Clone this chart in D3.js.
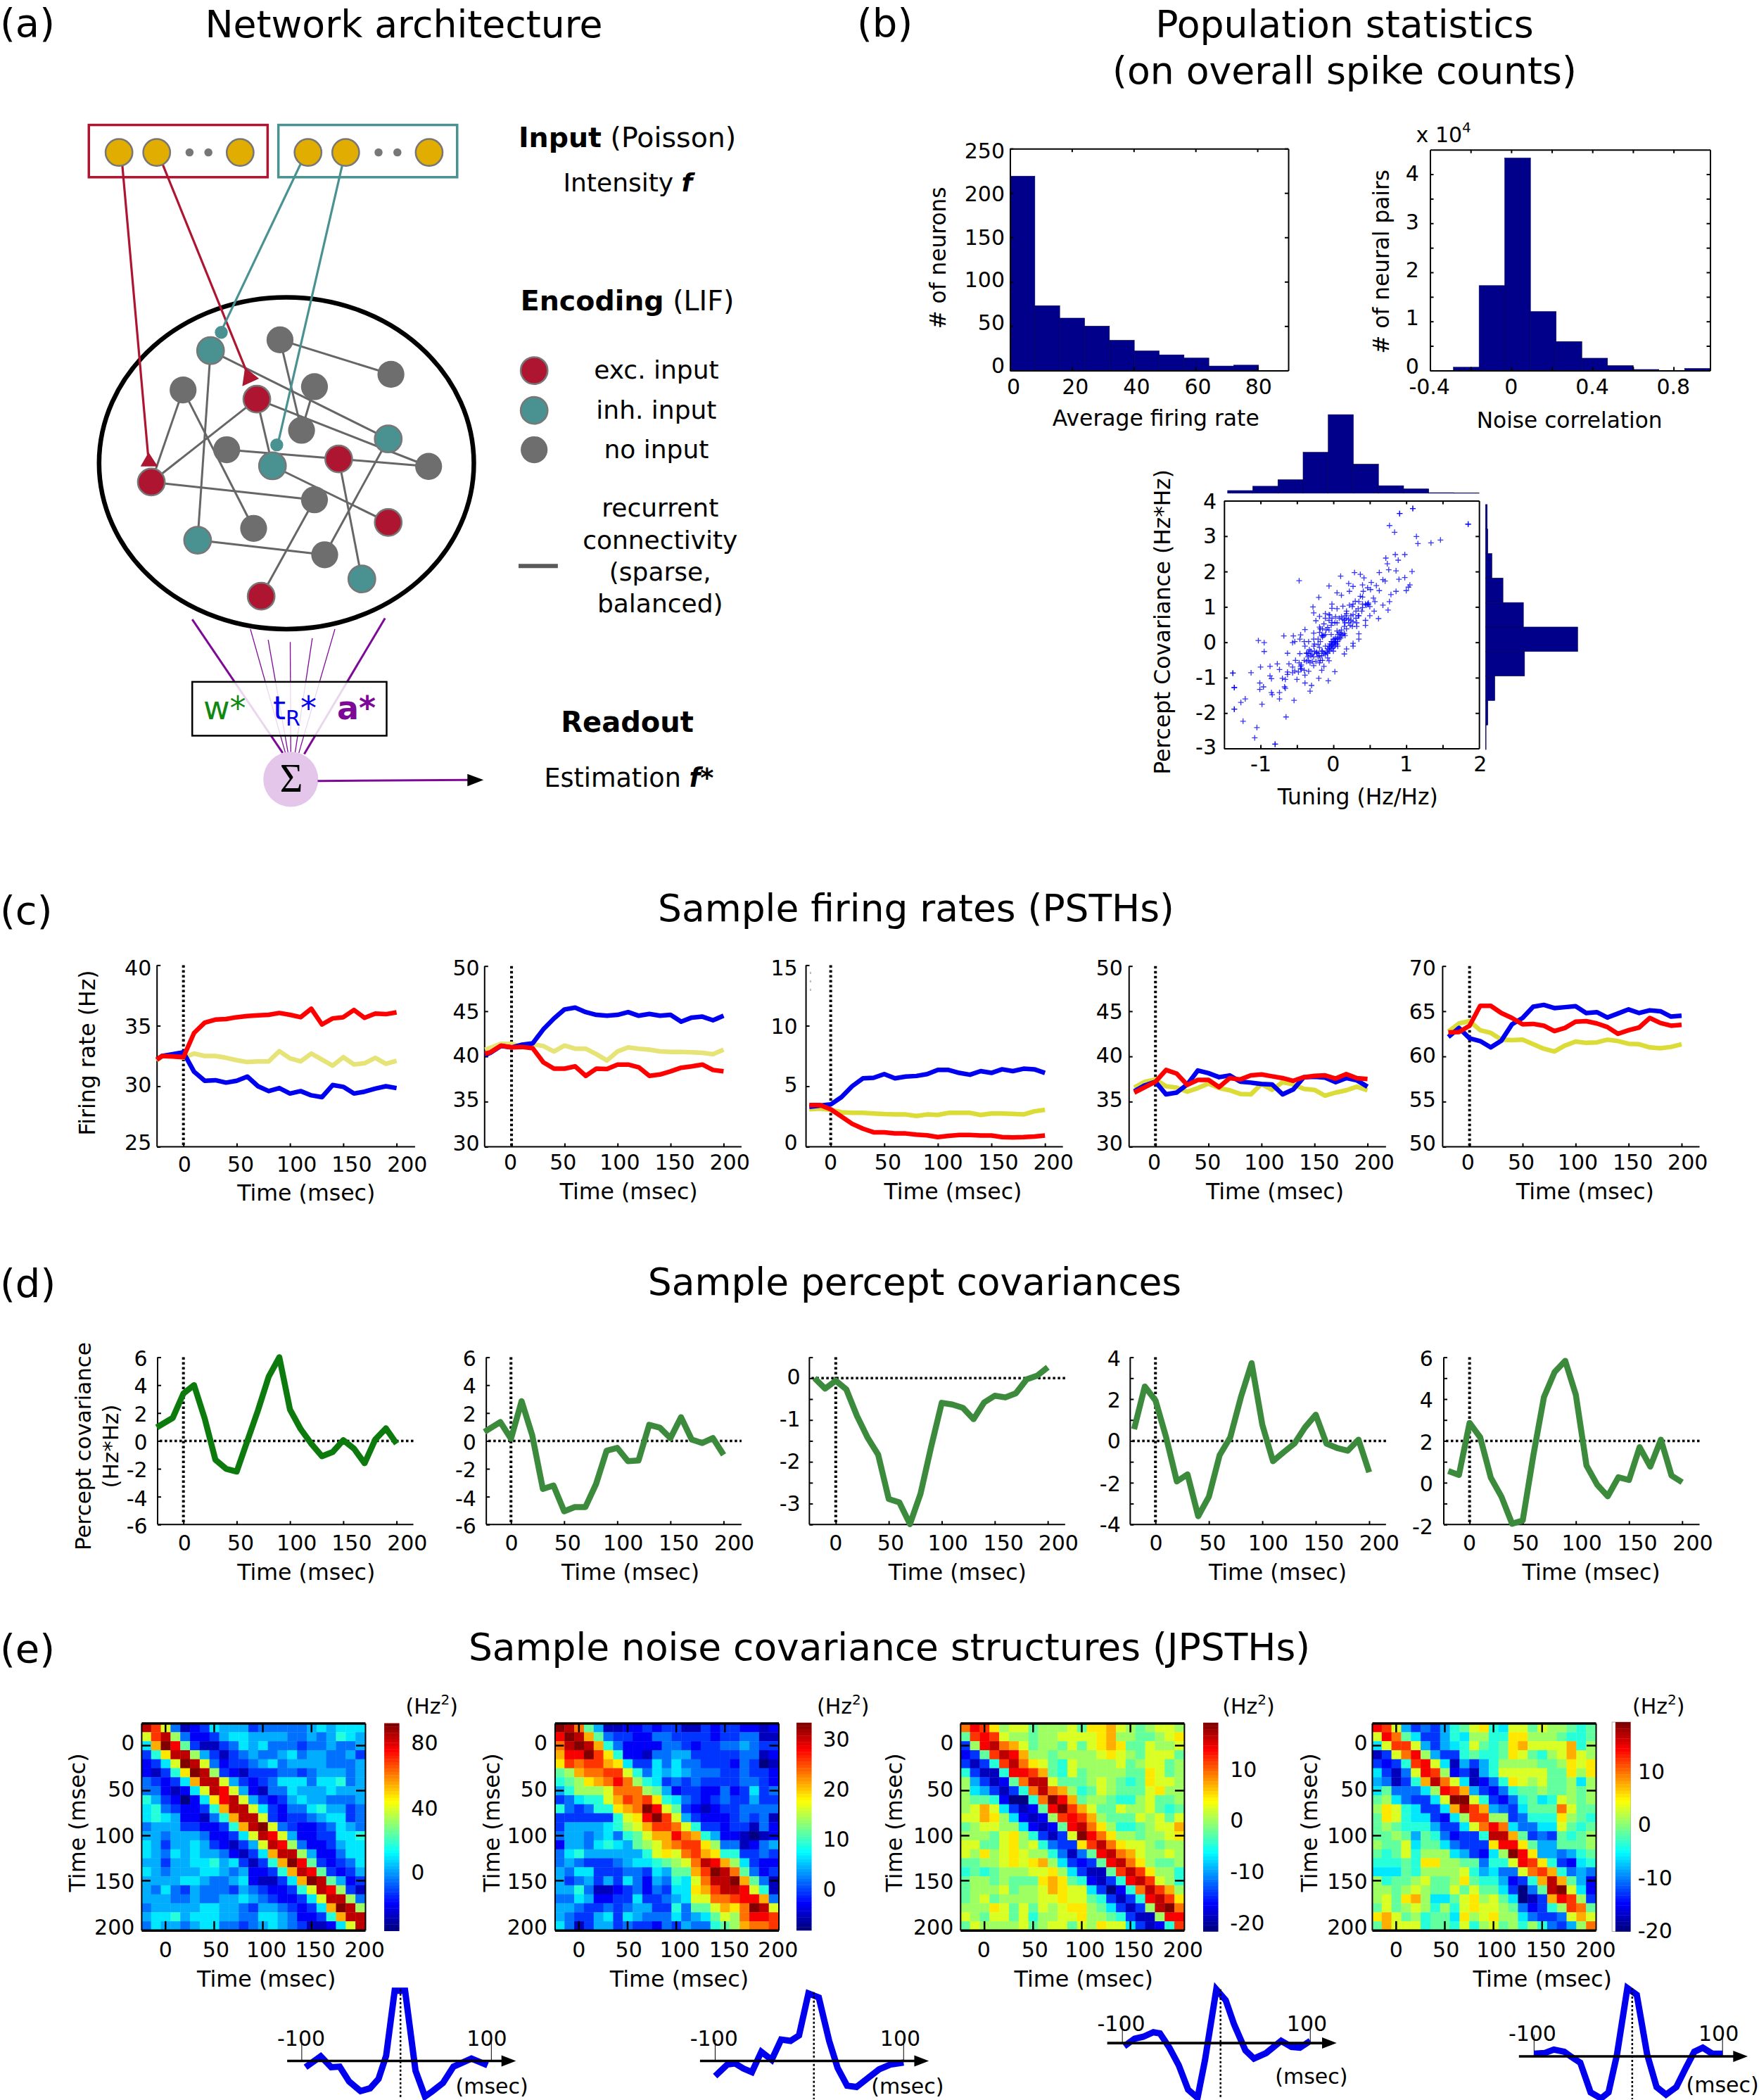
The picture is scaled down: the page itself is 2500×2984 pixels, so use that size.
<!DOCTYPE html>
<html><head><meta charset="utf-8">
<style>html,body{margin:0;padding:0;background:#fff}svg{display:block}text{font-family:"DejaVu Sans",sans-serif;fill:#000}</style>
<script src="https://cdn.jsdelivr.net/npm/d3@7/dist/d3.min.js"></script>
</head><body><svg id="c" width="2500" height="2984"></svg>
<script>
// ---------- data: PSTH panels (c) ----------
const timesC = [-20,-10,0,10,20,30,40,50,60,70,80,90,100,110,120,130,140,150,160,170,180,190,200];
const timesLong = [-25,-20,-10,0,10,20,30,40,50,60,70,80,90,100,110,120,130,140,150,160,170,180,190,200];
const timesD = [-25,-10,0,10,20,30,40,50,60,70,80,90,100,110,120,130,140,150,160,170,180,190,200];
const c1Red=[32.2,32.5,32.46,32.4,34.4,35.25,35.5,35.55,35.7,35.8,35.85,35.9,36.05,35.9,35.7,36.4,35.1,35.6,35.7,36.3,35.65,36,35.95,36.1];
const c1Blue=[32.2,32.5,32.65,32.8,31.2,30.45,30.5,30.3,30.45,30.8,30,29.6,29.85,29.4,29.6,29.25,29.1,30.1,29.95,29.4,29.55,29.8,30,29.85];
const c1Yellow=[32.1,32.5,32.5,32.35,32.7,32.5,32.5,32.35,32.15,32,32.05,32.05,32.9,32.3,32.05,32.7,32.2,31.7,32.4,31.8,31.9,32.35,31.85,32.1];
const c2Red=[40.3,40.45,41.2,41,41.05,40.9,39.35,38.65,38.65,38.9,37.85,38.65,38.6,39.1,39.1,38.8,37.85,38,38.35,38.75,38.9,39.1,38.5,38.35];
const c2Blue=[40.15,40.4,41.15,41,41.3,41.45,43,44.2,45.2,45.4,44.9,44.6,44.5,44.6,44.9,44.5,44.7,44.5,44.6,43.85,44.3,44.4,44,44.5];
const c2Yellow=[40.75,40.95,41.4,41.4,41.05,41.35,41.15,40.55,41.2,40.85,40.85,40.25,39.55,40.55,41,40.85,40.75,40.55,40.5,40.5,40.45,40.4,40.25,40.75];
const c3Red=[3.45,3.45,3.1,2.5,1.9,1.5,1.2,1.2,1.1,1.1,1,0.95,0.8,0.9,0.97,0.97,0.93,0.93,0.8,0.78,0.8,0.85,0.93];
const c3Blue=[3.3,3.4,3.5,4.1,5,5.65,5.7,6,5.65,5.8,5.85,6,6.35,6.35,6.1,5.95,6.25,6.1,6.4,6.25,6.45,6.4,6.1];
const c3Yellow=[3.1,3.15,3.05,2.85,2.8,2.8,2.75,2.7,2.67,2.67,2.55,2.67,2.63,2.8,2.8,2.8,2.63,2.75,2.75,2.72,2.67,2.93,3.05];
const c4Red=[36,36.6,37.2,38.5,38.1,36.85,37.4,37.4,36.6,37.6,37.45,37.9,38,37.8,37.6,37.3,37.7,37.85,37.9,37.55,38.05,37.6,37.5];
const c4Blue=[36.15,36.8,37.2,35.8,36,36.9,38.45,38.15,37.7,37.9,37.2,37.1,36.95,36.9,35.8,36.35,37.7,37.75,37.65,37.15,37.6,37.35,36.65];
const c4Yellow=[36.55,37.2,37.45,36.7,36.55,36.1,36.5,37,36.5,36.25,35.85,35.8,36.95,36.3,37.15,36.9,36.4,36.3,35.65,36,36.25,36.65,36.25];
const c5Red=[62.65,62.7,63.4,65.6,65.6,64.8,64.25,63.55,63.6,63.4,62.8,63.15,63.85,63.9,63.65,63.25,62.5,62.9,63.2,64.25,63.7,63.4,63.5];
const c5Blue=[62.15,63.15,62,61.7,61,61.75,63.55,64.25,65.5,65.7,65.35,65.45,65.55,64.8,64.9,64.3,64.75,65.2,64.8,65.1,65,64.4,64.5];
const c5Yellow=[62.75,63.65,63.9,62.9,62.6,61.85,61.8,61.85,61.35,60.85,60.55,61.2,61.65,61.5,61.55,61.85,61.7,61.4,61.35,61,60.9,61.05,61.35];
// ---------- data: percept covariances (d) ----------
const d1Cov=[0.97,1.65,3.4,4,1.6,-1.35,-2,-2.2,0,2.2,4.6,6,2.25,0.85,-0.2,-1.1,-0.8,0.05,-0.55,-1.6,0.1,0.9,-0.2];
const d2Cov=[0.65,1.35,0.15,2.85,0.4,-3.45,-3.2,-5.05,-4.75,-4.75,-3.1,-0.7,-0.5,-1.45,-1.4,1.15,0.95,0.2,1.7,0.1,-0.15,0.2,-1];
const d3Cov=[0,-0.25,-0.06,-0.27,-0.9,-1.42,-1.83,-2.89,-2.97,-3.49,-2.76,-1.64,-0.59,-0.63,-0.71,-0.98,-0.58,-0.42,-0.46,-0.36,-0.03,0.06,0.26];
const d4Cov=[0.56,2.6,1.94,0.17,-1.94,-1.6,-3.6,-2.67,-0.69,0.17,2.1,3.72,0.77,-0.97,-0.54,-0.13,0.65,1.25,-0.13,-0.34,-0.47,0.06,-1.5];
const d5Cov=[0.56,0.37,2.86,2.17,0.24,-0.67,-1.96,-1.81,1.31,4.1,5.29,5.83,4.2,0.82,-0.09,-0.65,0.26,0.13,1.7,0.77,2.06,0.34,0.02];
// ---------- data: histograms (b) ----------
const rateCounts=[219,73,59,50,34,22,17.6,14,5,6];
const noiseCounts=[0.066,1.73,4.33,1.2,0.59,0.25,0.1,0.02,0,0.04];
const tuningCounts=[5,13,25,76,146,54,14,8,1,0.5];
const covCounts=[3,4,11,30,65,158,67,16,4,1];
// ---------- data: scatter (b) ----------
const tuningVals=[1.85,1.09,0.91,0.77,0.84,1.14,1.16,1.34,1.47,0.85,0.98,0.72,0.89,0.74,0.76,0.86,1.08,0.63,0.29,0.37,0.10,0.42,0.98,0.90,0.68,-0.47,0.71,0.21,0.52,1.05,0.40,-0.06,0.27,0.59,0.47,1.03,0.51,0.63,0.22,0.41,1.0,0.86,0.05,0.11,0.79,-0.2,0.37,0.55,0.57,0.77,0.30,-0.02,0.48,0.68,0.22,0.13,-0.28,0.05,-0.02,0.18,0.75,0.56,-0.27,-0.11,-0.05,-0.19,0.11,0.03,0.27,0.50,0.62,-0.24,0.24,-0.02,-0.13,0.16,0.44,0.32,-0.19,-0.39,0.18,-0.10,0.32,-0.27,0.08,0.35,-0.68,-0.55,-0.45,-0.15,0.16,0.35,-1.03,-0.95,-0.56,-0.46,-0.40,-0.34,0.27,-0.21,0.27,-0.95,-0.63,0.18,0.15,-0.46,-0.36,-0.29,-0.21,0,0.02,-0.02,0.05,0.03,-0.03,0.08,-0.05,0,0.06,-0.06,0.1,0.02,-0.02,-0.08,-0.13,-0.1,-0.15,-0.16,-0.19,-0.23,-0.26,-0.33,-0.35,-0.27,-0.18,-0.08,-0.37,-0.32,-0.24,-0.06,-0.13,-0.52,-0.61,-0.77,-0.87,-1,-0.56,-0.45,-0.27,-0.74,-0.63,-0.56,-0.48,-0.4,-0.34,-0.16,0.02,-1.38,-1.13,-0.87,-0.39,-0.7,-0.85,-0.66,-0.5,-0.2,-0.07,-1.01,-0.39,-0.3,-1.36,-0.96,-0.67,-1.01,-0.66,-0.32,-0.85,-0.74,-0.84,-0.74,-0.54,-1.21,-1.27,-0.98,-1.36,-0.65,-1.24,-1.05,-1.08,-0.8,0.24,0.16,0.31,0.4,0.45,0.35,0.26,0.40,0.47,0.34,0.21,0.26,0.15,-0.06,-0.18,-0.13,-0.08,-0.03,0.02,0.13,0.44,0.05,0.11,-0.26,-0.31,-0.18,-0.11,-0.21,-0.34,0,0.06,-0.53,-0.45,-0.44,
 -0.23,-0.19,-0.16,-0.11,-0.08,-0.05,-0.02,0.02,0.03,0.05,0.08,0.10,0.11,0.13,0.15,-0.03,0,-0.02,0.02,-0.05,-0.06,0.03,0.06,-0.15,-0.11,-0.21,-0.27,-0.31,-0.37,-0.40,-0.34,-0.29,-0.19,-0.15,0.18,0.21,0.23,0.27,0.31,0.35,0.39,0.44,0.48,0.50,0.40,0.34,0.27,0.18,0.15,0.08,0.05,-0.02,-0.06,-0.11,-0.15,-0.06,-0.03,-0.19,-0.16,-0.27,-0.39,-0.47,-0.44,-0.53,-0.63,
 1.85,1.09,0.91,-1.38,-1.36,-1.36,-0.8];
const covVals=[3.34,3.78,3.64,3.30,3.11,2.99,2.79,2.81,2.89,2.48,2.48,2.38,2.32,2.22,2.05,2.02,2.0,1.97,1.97,1.92,1.87,1.82,1.83,1.78,1.77,1.74,1.73,1.66,1.69,1.62,1.62,1.59,1.58,1.60,1.54,1.56,1.49,1.46,1.44,1.44,1.46,1.44,1.40,1.33,1.35,1.27,1.30,1.25,1.15,1.15,1.16,1.08,1.07,1.05,1.05,1.02,1.0,0.95,0.96,0.88,0.91,0.88,0.83,0.81,0.77,0.73,0.72,0.72,0.78,0.75,0.67,0.61,0.62,0.56,0.52,0.55,0.62,0.55,0.43,0.36,0.38,0.35,0.45,0.26,0.28,0.24,0.18,0.18,0.21,0.19,0.19,0.09,0.05,-0.01,-0.01,0.09,0.02,0.02,-0.03,-0.06,-0.11,-0.26,-0.31,-0.19,-0.33,-0.32,-0.31,-0.34,-0.31,-0.01,0.02,-0.08,0.09,-0.05,-0.11,0.15,-0.15,-0.15,0.02,-0.21,0.25,0.09,0.02,-0.18,-0.31,-0.28,-0.25,-0.38,-0.15,-0.31,-0.25,-0.21,-0.41,-0.41,-0.51,-0.44,-0.54,-0.58,-0.54,-0.52,-0.68,-0.51,-0.61,-0.61,-0.68,-0.7,-0.7,-0.74,-0.66,-0.77,-0.84,-0.86,-0.84,-0.79,-0.82,-0.79,-0.83,-0.87,-0.86,-0.95,-0.93,-1.02,-1.03,-1.05,-1.05,-1.02,-1.09,-1.15,-1.15,-1.22,-1.28,-1.26,-1.26,-1.33,-1.3,-1.38,-1.42,-1.42,-1.48,-1.6,-1.64,-1.6,-1.7,-1.75,-1.89,-2.11,-2.23,-2.41,-2.7,-2.88,0.75,0.75,0.88,0.98,1.05,1.15,1.01,1.28,1.08,0.75,0.55,0.45,0.45,0.78,0.38,0.19,0.42,0.48,0.55,0.65,0.48,0.32,0.35,-0.05,-0.25,0.02,-0.11,-0.41,-0.31,-0.25,-0.11,0.02,-0.68,-0.76,
 -0.28,-0.38,-0.25,-0.34,-0.31,-0.25,-0.18,-0.11,0.02,-0.05,0.09,0.12,0.19,0.22,0.25,0.02,0.09,-0.05,-0.01,-0.05,-0.11,0.12,0.22,0.15,0.22,0.09,-0.11,-0.38,-0.31,-0.51,-0.51,-0.54,-0.58,-0.51,0.68,0.65,0.48,0.58,0.68,0.75,0.88,1.08,1.11,1.01,1.08,0.95,1.08,0.81,0.62,0.68,0.55,0.68,0.62,0.68,0.38,0.35,0.22,0.28,0.19,0.09,-0.11,-0.58,-0.64,-0.81,-0.91,
 3.34,3.78,3.64,-0.87,-1.28,-1.89,-2.88];
// ---------- data: JPSTH cells, one char per cell, colour level 0..h ----------
const jpsth1=["gea41236555344444565666","aeg94223566555544545765","6chf8311346564443445445","37bgg953134544564554453","236ahga4233456455554445","2137bhg9321333443455545","43236cgga53234666466745","442126agfa5214465556555","7532026bfga532356554445","67432237cgga63244675534","676522147cgga3233456634","4555332237cgha432234654","55455542236agfa52233667","653556532135agf94223566","6546565542136cgg9522466","55355667563137chf832346","654555665452237cgf83235","5555665445621136chg8523","54643544435432237agf931","555445445565432236agg94","4555556655435543236chg9","56675666554466542237cgg","465545664434565431126ag"];
const jpsth2=["hgd85112232331132332212","fhgc8433224433332334411","dghgc742222443233445433","cffheb72214455333334412","bedeecb6336464433324301","89cddeea746565444334332","789bcdfd976343433334432","57999addd98523322423634","34677acedeb764323433533","743477bcdhfa83212334444","3333337abfhea5322234341","35555679aceeda733233142","455456478accfdc75221012","2554676589acdeeb9441245","4675555557abadecb773343","4543334566789adgfc96322","54663334436588cehgd8423","53453536425476adgghc841","55741123424366bceggfa71","44652233633456aaddeffc4","5543343455337488acbdhga","54335636544464568a9dffe","6413553433243544789cdde"];
const jpsth3=["dfeb9aa8999a8bbca989aa9","8efea99899aaaabc99889ab","39fgdca8998a8abcb88a99a","238egfc9989999aba98aaa8","3137egdba87a9999a89aa89","73117ffec87a8999988ba89","953128dgga8889a9878baa9","9653137dgdc978a9888ab99","98872007dhfc8998779a889","9aca63128fheca88a99a878","aacb962129efec9888a9a8a","89aa9962128fgdb97789aac","9998ab97313ahfdb99899ab","aa88ab9a7433begdbaa9899","a9b9aba9974148fgdca99a9","8899ababc963238fgdb9889","7878999aab963118egeb997","89989888bcb872137fgea97","8999a899acbaa63027dgec9","89a89999aabaa873137fgeb","999ba8a8a9abb9863139ghd","a98aa8a799aab99873119ff","8a9999a89aa8a9baa63127e"];
const jpsth4=["fea5343578ab76aa8a99878","afd86335769977bb9998778","6aeea53567a878bcaaaac79","13adf953378778ba879aca9","3237efa6153579999889bab","6314afe923157aaaaa88b9b","54137cgda61247ba9a88969","6844469fec5324788988989","8964336ahha73247867a989","9ba76336cgec5436888da88","8ba7663269ee9934777b987","8987775336adfd64466a878","889858742337ggc83438789","988a68864333bffb8558889","878a7999653269hfb554578","77787bb9988477afeb73267","666879999a75644adec7454","97889a889b8775237cgc852","9989a988a8a8863048gha62","9a8bc9668ab9a86013cfe93","8a89a9797abaa9842379ed8","bca897886b9ab9964334aca","8caaa7887a79a897974359d"];
// ---------- data: cross-covariance curves (e) ----------
const lag1=[-96,-80,-69,-60,-50,-38,-28,-19,-11,-2,9,20,30,38,49,60,79,96];
const cc1=[-2.3,1.7,-2.3,-2.1,-7.6,-11.1,-10.1,-6.6,1.9,25.9,25.9,-3.6,-13.1,-11.1,-8.1,-2.1,0.9,-1.6];
const lag2=[-100,-87,-79,-70,-61,-51,-40,-30,-20,-11,-1,10,21,30,40,50,61,74,86,100];
const cc2=[-5.6,-1.3,-0.9,-2.8,-4.1,3.4,0.4,7.9,7.4,9.4,24.9,23.4,7.4,-2.6,-9.1,-9.6,-6.6,-3.1,-1.3,-0.6];
const lag3=[-98,-87,-78,-67,-60,-50,-40,-30,-20,-12,0,10,19,31,40,53,69,80,89,100];
const cc3=[-1.2,1.6,2.3,4,3.6,-1.7,-8.2,-17.2,-20.2,-6.2,19.8,15.8,6.8,-2.7,-5.7,-3.7,0.8,-1.4,-1.7,0.8];
const lag4=[-100,-89,-79,-68,-60,-51,-40,-29,-21,-12,-1,9,20,30,40,51,61,70,79,89,100];
const cc4=[1,1.2,2.5,1.7,-0.3,-2.3,-13.3,-15.5,-13.3,0.7,25.2,22.7,0.7,-11.3,-14.1,-11.3,-4.3,1.7,3.2,1,1];
// ---------- diagram (a) ----------
const nodeKind=["t","g","g","g","g","r","g","t","g","t","r","g","r","g","r","g","t","g","t","r"];
const nodeCx=[391,520,726,340,584,477,560,721,421,506,629,796,281,584,721,471,367,603,672,485];
const nodeCy=[651,631,695,724,718,741,799,815,835,865,852,866,895,928,970,981,1003,1030,1075,1107];
const edgeFrom=[0,0,1,1,4,3,3,5,5,5,8,10,10,9,12,13,7,16];
const edgeTo=[16,7,2,6,6,12,15,12,9,11,10,11,18,14,13,19,17,17];

// ---------- helpers ----------
const svg=d3.select("#c");
const BLUE="#0000f0",RED="#ff0000",RED_A="#ad1530",TEAL="#4a9292",GRAY="#6e6e6e",GOLD="#e1ad01",PURPLE="#7d0a96",NAVY="#00008a";
function T(g,x,y,s,o={}){
  const t=g.append("text").attr("x",x).attr("y",y).attr("font-size",o.size||30)
    .attr("text-anchor",o.anchor||"middle").attr("dominant-baseline",o.base||"central");
  if(o.fill)t.style("fill",o.fill);
  if(o.weight)t.attr("font-weight",o.weight);
  if(o.rot!=null)t.attr("transform",`rotate(${o.rot},${x},${y})`);
  (Array.isArray(s)?s:[{t:s}]).forEach(p=>{
    const ts=t.append("tspan").text(p.t);
    if(p.w)ts.attr("font-weight",p.w);
    if(p.i)ts.attr("font-style","italic");
    if(p.sz)ts.attr("font-size",p.sz);
    if(p.dy)ts.attr("dy",p.dy);
    if(p.f)ts.style("fill",p.f);
  });
  return t;
}
function styleAxis(a,w){a.selectAll("path").attr("stroke","#000").attr("stroke-width",w||2).attr("fill","none");
  a.selectAll("line").attr("stroke","#000").attr("stroke-width",w||2);a.selectAll("text").remove();}
const jet=t=>{const c=v=>Math.round(255*Math.max(0,Math.min(1,v)));
  return `rgb(${c(1.5-Math.abs(4*t-3))},${c(1.5-Math.abs(4*t-2))},${c(1.5-Math.abs(4*t-1))})`;};

// panel letters & titles
const root=svg.append("g");
[["(a)",0,52],["(b)",1218,52],["(c)",0,1313],["(d)",0,1843],["(e)",0,2362]].forEach(d=>T(root,d[1],d[2],d[0],{size:56,anchor:"start",base:"auto"}));
T(root,574,34,"Network architecture",{size:53.6});
T(root,1911,34,"Population statistics",{size:53.6});
T(root,1911,100,"(on overall spike counts)",{size:53.6});
T(root,1302,1290,"Sample firing rates (PSTHs)",{size:53.4});
T(root,1300,1821,"Sample percept covariances",{size:53.4});
T(root,1264,2340,"Sample noise covariance structures (JPSTHs)",{size:53.4});

// ---------- panel a ----------
(function(){
 const g=svg.append("g"),P=d3.scaleLinear().domain([0,1568]).range([0,1200]);
 const line=(x1,y1,x2,y2,c,w)=>g.append("line").attr("x1",P(x1)).attr("y1",P(y1)).attr("x2",P(x2)).attr("y2",P(y2)).attr("stroke",c).attr("stroke-width",w);
 const circ=(x,y,r,f,s)=>g.append("circle").attr("cx",P(x)).attr("cy",P(y)).attr("r",P(r)).attr("fill",f).attr("stroke",s||"none").attr("stroke-width",2.5);
 const poly=(pts,f)=>g.append("polygon").attr("points",pts.map(p=>P(p[0])+","+P(p[1])).join(" ")).attr("fill",f);
 const rect=(x0,y0,x1,y1,c,w,fill)=>g.append("rect").attr("x",P(x0)).attr("y",P(y0)).attr("width",P(x1-x0)).attr("height",P(y1-y0)).attr("stroke",c).attr("stroke-width",w).attr("fill",fill||"none");
 rect(165,232,497,329,RED_A,3.5);rect(517,232,849,329,TEAL,3.5);
 g.append("ellipse").attr("cx",P(532)).attr("cy",P(860)).attr("rx",P(348)).attr("ry",P(308)).attr("fill","none").attr("stroke","#000").attr("stroke-width",6.5);
 edgeFrom.forEach((a,i)=>line(nodeCx[a],nodeCy[a],nodeCx[edgeTo[i]],nodeCy[edgeTo[i]],"#666",3));
 line(227,305,275,845,RED_A,3.2);line(302,305,462,700,RED_A,3.2);
 line(558,305,413,610,TEAL,3.2);line(636,305,517,820,TEAL,3.2);
 const fills={r:RED_A,t:TEAL,g:GRAY};
 nodeKind.forEach((k,i)=>circ(nodeCx[i],nodeCy[i],25,fills[k],k==="g"?null:"#777"));
 poly([[276,840],[261,866],[293,866]],RED_A);poly([[455,682],[481,703],[450,717]],RED_A);
 circ(411,617,12,TEAL);circ(514,826,12,TEAL);
 [221,291,446,572,642,797].forEach(x=>circ(x,283,25,GOLD,"#777"));
 [352,387,703,738].forEach(x=>circ(x,283,7.5,"#777"));
 // legend
 circ(992,688,25,RED_A,"#777");circ(992,762,25,TEAL,"#777");circ(992,835,25,GRAY);
 line(963,1051,1036,1051,"#5a5a5a",6);
 // readout
 line(357,1150,525,1398,PURPLE,3);line(715,1148,565,1400,PURPLE,3);
 [[465,1168,530],[498,1188,535],[539,1192,540],[580,1185,548],[622,1168,555]].forEach(d=>line(d[0],d[1],d[2],1398,PURPLE,1.3));
 rect(357,1266,718,1366,"#000",2.5,"rgba(255,255,255,0.84)");
 circ(540,1447,51,"#e3c6e9");
 line(590,1450,872,1448,PURPLE,3);poly([[868,1437],[898,1448],[868,1460]],"#000");
 T(g,P(541),P(1445),"Σ",{size:56}).style("font-family","'Liberation Serif',serif");
 const b=1022;
 T(g,289,b,"w*",{size:46,anchor:"start",base:"auto",fill:"#118811"});
 T(g,388,b,[{t:"t"},{t:"R",sz:30,dy:"9"},{t:"*",dy:"-9"}],{size:46,anchor:"start",base:"auto",fill:"#0000ee"});
 T(g,479,b,"a*",{size:46,anchor:"start",base:"auto",fill:PURPLE,weight:"bold"});
 const X=v=>P(v);
 T(g,X(1165),X(255),[{t:"Input",w:"bold"},{t:" (Poisson)"}],{size:39.5});
 T(g,X(1166),X(339),[{t:"Intensity "},{t:"f",w:"bold",i:1}],{size:36});
 T(g,X(1165),X(558),[{t:"Encoding",w:"bold"},{t:" (LIF)"}],{size:39.5});
 T(g,X(1219),X(686),"exc. input",{size:36});T(g,X(1219),X(760),"inh. input",{size:36});T(g,X(1219),X(833),"no input",{size:36});
 ["recurrent","connectivity","(sparse,","balanced)"].forEach((s,i)=>T(g,X(1226),X([942,1002,1061,1120][i]),s,{size:36}));
 T(g,X(1165),X(1340),"Readout",{size:40,weight:"bold"});
 T(g,X(1168),X(1444),[{t:"Estimation "},{t:"f*",w:"bold",i:1}],{size:36.5});
})();

// ---------- panel b ----------
const bx=z=>1200+z/1.206, by=z=>z/1.307;
function boxAxes(g,x,y,xt,yt,sz=5){
 const [x0,x1]=x.range(),[y0,y1]=y.range();
 styleAxis(g.append("g").attr("transform",`translate(0,${y0})`).call(d3.axisBottom(x).tickValues(xt).tickSize(-sz).tickSizeOuter(0)));
 styleAxis(g.append("g").attr("transform",`translate(0,${y1})`).call(d3.axisTop(x).tickValues(xt).tickSize(-sz).tickSizeOuter(0)));
 styleAxis(g.append("g").attr("transform",`translate(${x0},0)`).call(d3.axisLeft(y).tickValues(yt).tickSize(-sz).tickSizeOuter(0)));
 styleAxis(g.append("g").attr("transform",`translate(${x1},0)`).call(d3.axisRight(y).tickValues(yt).tickSize(-sz).tickSizeOuter(0)));
}
function histBars(g,counts,start,width,x,y){
 g.selectAll(null).data(counts).join("rect").attr("x",(d,i)=>x(start+i*width)).attr("width",(d,i)=>x(start+(i+1)*width)-x(start+i*width))
  .attr("y",d=>y(d)).attr("height",d=>y(0)-y(d)).attr("fill",NAVY).attr("stroke","#000050").attr("stroke-width",.6);
}
(function(){
 const g=svg.append("g");
 // firing rate histogram
 let x=d3.scaleLinear().domain([0,90]).range([bx(284),bx(761)]),y=d3.scaleLinear().domain([0,250]).range([by(688),by(276)]);
 histBars(g,rateCounts,0,8.04,x,y);boxAxes(g,x,y,[0,20,40,60,80],[0,50,100,150,200,250]);
 [0,20,40,60,80].forEach((v,i)=>T(g,bx([290,396,501,606,710][i]),by(717),v));
 [250,200,150,100,50,0].forEach((v,i)=>T(g,bx(275),by([280,360,440,519,599,678][i]),v,{anchor:"end"}));
 T(g,bx(534),by(776),"Average firing rate",{size:31.4});
 T(g,bx(160),by(479),"# of neurons",{size:31.2,rot:-90});
 // noise correlation histogram
 x=d3.scaleLinear().domain([-0.4,0.98]).range([bx(1004),bx(1484)]);y=d3.scaleLinear().domain([0,4.5]).range([by(688),by(278)]);
 histBars(g,noiseCounts,-0.285,0.1266,x,y);boxAxes(g,x,y,[-0.2,0,0.2,0.4,0.6,0.8],[0,0.5,1,1.5,2,2.5,3,3.5,4]);
 ["-0.4","0","0.4","0.8"].forEach((v,i)=>T(g,bx([1003,1143,1282,1421][i]),by(717),v));
 [4,3,2,1,0].forEach((v,i)=>T(g,bx(985),by([322,412,501,590,679][i]),v,{anchor:"end"}));
 T(g,bx(980),by(250),[{t:"x 10"},{t:"4",sz:20,dy:"-10"}],{anchor:"start",size:30});
 T(g,bx(1243),by(780),"Noise correlation",{size:31.2});
 T(g,bx(920),by(486),"# of neural pairs",{size:31.2,rot:-90});
 // scatter
 x=d3.scaleLinear().domain([-1.5,2]).range([bx(651),bx(1088)]);y=d3.scaleLinear().domain([-3,4]).range([by(1390),by(930)]);
 boxAxes(g,x,y,[-1,-0.5,0,0.5,1,1.5],[-3,-2,-1,0,1,2,3,4]);
 g.selectAll(null).data(tuningVals).join("path").attr("d","M-4,0H4M0,-4V4")
  .attr("transform",(d,i)=>`translate(${x(d)},${y(covVals[i])})`).attr("stroke","#0000ff").attr("stroke-width",1.3).attr("fill","none").attr("opacity",.8);
 [-1,0,1,2].forEach((v,i)=>T(g,bx([714,838,963,1090][i]),by(1418),v));
 [4,3,2,1,0,-1,-2,-3].forEach((v,i)=>T(g,bx(638),by([930,995,1061,1127,1192,1257,1323,1387][i]),v,{anchor:"end"}));
 T(g,bx(880),by(1480),"Tuning (Hz/Hz)",{size:31.4});
 T(g,bx(545),by(1155),"Percept Covariance (Hz*Hz)",{size:31.3,rot:-90});
 // top marginal
 const xm=d3.scaleLinear().domain([-1.45,2]).range([bx(657),bx(1088)]),ym=d3.scaleLinear().domain([0,146]).range([by(916),by(770)]);
 histBars(g,tuningCounts,-1.45,0.345,xm,ym);
 // right marginal
 const ry=d3.scaleLinear().domain([-3,3.88]).range([by(1392),by(937)]),rx=d3.scaleLinear().domain([0,158]).range([bx(1099),bx(1257)]);
 g.selectAll(null).data(covCounts).join("rect").attr("x",rx(0))
  .attr("y",(d,i)=>ry(3.88-i*0.688)).attr("height",(d,i)=>ry(3.88-(i+1)*0.688)-ry(3.88-i*0.688))
  .attr("width",d=>rx(d)-rx(0)).attr("fill",NAVY).attr("stroke","#000050").attr("stroke-width",.6);
})();

// ---------- panels c & d ----------
const zx=z=>z/1.2544, zy=z=>1250+z/1.565;
const Z=1568;
function linePanel(o){
 const g=svg.append("g");
 const x=d3.scaleLinear().domain([0,200]).range([zx(o.x0),zx(o.x200)]);
 const y=d3.scaleLinear().domain(o.yd).range([zy(o.bot),zy(o.top)]);
 const L=zx(o.left),R=zx(o.right);
 g.append("line").attr("x1",L).attr("x2",R).attr("y1",zy(o.bot)).attr("y2",zy(o.bot)).attr("stroke","#000").attr("stroke-width",2);
 g.append("line").attr("x1",L).attr("x2",L).attr("y1",zy(o.bot)).attr("y2",zy(o.top)).attr("stroke","#000").attr("stroke-width",2);
 const ax=g.append("g").attr("transform",`translate(0,${zy(o.bot)})`).call(d3.axisBottom(x).tickValues([0,50,100,150,200]).tickSize(-5).tickSizeOuter(0));
 styleAxis(ax);ax.select("path").remove();
 const ay=g.append("g").attr("transform",`translate(${L},0)`).call(d3.axisLeft(y).tickValues(o.yt).tickSize(-5).tickSizeOuter(0));
 styleAxis(ay);ay.select("path").remove();
 if(o.zero!=null)g.append("line").attr("x1",L+3).attr("x2",R).attr("y1",y(o.zero)).attr("y2",y(o.zero)).attr("stroke","#000").attr("stroke-width",3.4).attr("stroke-dasharray","3.5 3.5");
 g.append("line").attr("x1",x(0)).attr("x2",x(0)).attr("y1",zy(o.top)).attr("y2",zy(o.bot)).attr("stroke","#000").attr("stroke-width",4).attr("stroke-dasharray","3.5 3.5");
 const ln=d3.line().x((d,i)=>x(o.t[i])).y(d=>y(d));
 o.s.forEach(s=>g.append("path").attr("d",ln(s.v)).attr("fill","none").attr("stroke",s.c).attr("stroke-width",s.w||6.5).attr("stroke-linejoin","round"));
 [0,50,100,150,200].forEach((v,i)=>T(g,zx(o.xl[i]),zy(o.xly),v));
 T(g,zx(o.xc),zy(o.xty),"Time (msec)",{size:31.6});
 o.yl.forEach((v,i)=>T(g,zx(o.ylx),zy(o.ylp[i]),v,{anchor:"end"}));
}
const Y1="#e6e377",Y2="#dcdc38";
const mk=(r,b,y,yc)=>[{v:y,c:yc},{v:b,c:BLUE},{v:r,c:RED}];
linePanel({left:280,right:740,x0:327,x200:707,top:190,bot:594,yd:[25,40],yt:[25,30,35,40],t:timesLong,s:mk(c1Red,c1Blue,c1Yellow,Y1),xl:[329,429,529,627,726],xly:632,xc:546,xty:697,yl:[40,35,30,25],ylp:[196,326,456,584],ylx:270});
linePanel({left:864,right:1322,x0:912,x200:1290,top:192,bot:594,yd:[30,50],yt:[30,35,40,45,50],t:timesLong,s:mk(c2Red,c2Blue,c2Yellow,Y1),xl:[910,1004,1105,1203,1301],xly:628,xc:1121,xty:694,yl:[50,45,40,35,30],ylp:[196,293,390,489,585],ylx:855});
linePanel({left:1437,right:Z+327,x0:1481,x200:Z+295,top:190,bot:594,yd:[0,15],yt:[0,5,10,15],t:timesC,s:mk(c3Red,c3Blue,c3Yellow,Y2),xl:[1481,Z+15,Z+113,Z+212,Z+310],xly:628,xc:Z+131,xty:694,yl:[15,10,5,0],ylp:[196,325,456,584],ylx:1422});
linePanel({left:Z+445,right:Z+903,x0:Z+492,x200:Z+870,top:192,bot:594,yd:[30,50],yt:[30,35,40,45,50],t:timesC,s:mk(c4Red,c4Blue,c4Yellow,Y2),xl:[Z+490,Z+585,Z+686,Z+784,Z+882],xly:628,xc:Z+705,xty:694,yl:[50,45,40,35,30],ylp:[196,293,390,489,585],ylx:Z+434});
linePanel({left:Z+1004,right:Z+1462,x0:Z+1052,x200:Z+1430,top:192,bot:594,yd:[50,70],yt:[50,55,60,65,70],t:timesC,s:mk(c5Red,c5Blue,c5Yellow,Y2),xl:[Z+1049,Z+1144,Z+1245,Z+1343,Z+1441],xly:628,xc:Z+1258,xty:694,yl:[70,65,60,55,50],ylp:[196,293,390,489,585],ylx:Z+992});
const G1="#0d7a0d",G2="#3c8a3c";
const covPanel=(o,v,c)=>linePanel(Object.assign({top:1062,bot:1434,xly:1475,xty:1540,s:[{v:v,c:c,w:8.5}]},o));
covPanel({left:281,right:737,x0:327,x200:707,yd:[-6,6],yt:[-6,-4,-2,0,2,4,6],zero:0,t:timesD,xl:[329,429,529,627,726],xc:546,yl:[6,4,2,0,-2,-4,-6],ylp:[1064,1126,1188,1250,1312,1375,1436],ylx:263},d1Cov,G1);
covPanel({left:867,right:1322,x0:911,x200:1290,yd:[-6,6],yt:[-6,-4,-2,0,2,4,6],zero:0,t:timesD,xl:[912,1012,1111,1210,1309],xc:1124,yl:[6,4,2,0,-2,-4,-6],ylp:[1064,1126,1188,1250,1312,1375,1436],ylx:849},d2Cov,G2);
covPanel({left:1443,right:Z+331,x0:1490,x200:Z+300,yd:[-3.5,0.5],yt:[-3.5,-3,-2.5,-2,-1.5,-1,-0.5,0,0.5],zero:0,t:timesC,xl:[1490,Z+20,Z+122,Z+221,Z+319],xc:Z+139,yl:[0,-1,-2,-3],ylp:[1105,1199,1293,1387],ylx:1427},d3Cov,G2);
covPanel({left:Z+447,right:Z+903,x0:Z+492,x200:Z+873,yd:[-4,4],yt:[-4,-3,-2,-1,0,1,2,3,4],zero:0,t:timesC,xl:[Z+493,Z+594,Z+693,Z+792,Z+891],xc:Z+710,yl:[4,2,0,-2,-4],ylp:[1064,1156,1248,1342,1434],ylx:Z+430},d4Cov,G2);
covPanel({left:Z+1006,right:Z+1462,x0:Z+1052,x200:Z+1431,yd:[-2,6],yt:[-2,-1,0,1,2,3,4,5,6],zero:2,t:timesC,xl:[Z+1052,Z+1152,Z+1252,Z+1351,Z+1450],xc:Z+1269,yl:[6,4,2,0,-2],ylp:[1064,1156,1250,1342,1438],ylx:Z+987},d5Cov,G2);
T(root,zx(155),zy(385),"Firing rate (Hz)",{size:31.5,rot:-90});
T(root,zx(148),zy(1260),"Percept covariance",{size:31,rot:-90});
T(root,zx(197),zy(1260),"(Hz*Hz)",{size:31,rot:-90});
root.append("line").attr("x1",zx(1445)).attr("x2",zx(1445)).attr("y1",zy(205)).attr("y2",zy(248)).attr("stroke","#bbb").attr("stroke-width",2).attr("stroke-dasharray","3 9");

// ---------- panel e ----------
const ey=z=>2380+z/2.596;
function jpsthPanel(o){
 const g=svg.append("g");
 const n=o.rows.length;
 const L=zx(o.l),R=zx(o.l+399),Tp=ey(178),B=ey(942);
 const cx=d3.scaleBand().domain(d3.range(n)).range([L,R]),cy=d3.scaleBand().domain(d3.range(n)).range([Tp,B]);
 const col=d3.scaleSequential(jet).domain([0,17]);
 o.rows.forEach((r,i)=>g.selectAll(null).data(r.split("")).join("rect").attr("x",(d,j)=>cx(j)).attr("y",cy(i))
   .attr("width",cx.bandwidth()+.4).attr("height",cy.bandwidth()+.4).attr("fill",d=>col(parseInt(d,36))));
 const tx=d3.scaleLinear().domain([-24.5,205.5]).range([L,R]),ty=d3.scaleLinear().domain([-24.5,205.5]).range([Tp,B]);
 const tv=[0,50,100,150];
 const A=(sel,w)=>{sel.selectAll("text").remove();sel.selectAll("path").attr("stroke","#000").attr("stroke-width",w).attr("fill","none");sel.selectAll("line").attr("stroke","#000").attr("stroke-width",2.5);};
 A(g.append("g").attr("transform",`translate(0,${B})`).call(d3.axisBottom(tx).tickValues(tv).tickSize(-13).tickSizeOuter(0)),3.5);
 A(g.append("g").attr("transform",`translate(0,${Tp})`).call(d3.axisTop(tx).tickValues(tv).tickSize(-13).tickSizeOuter(0)),3.5);
 A(g.append("g").attr("transform",`translate(${L},0)`).call(d3.axisLeft(ty).tickValues(tv).tickSize(-13).tickSizeOuter(0)),2);
 A(g.append("g").attr("transform",`translate(${R},0)`).call(d3.axisRight(ty).tickValues(tv).tickSize(-13).tickSizeOuter(0)),2);
 // tick labels
 [0,50,100,150,200].forEach((v,i)=>T(g,zx(o.xl[i]),ey(1012),v));
 [0,50,100,150,200].forEach((v,i)=>T(g,zx(o.yr),ey([250,420,592,760,930][i]),v,{anchor:"end"}));
 T(g,zx(o.xc),ey(1120),"Time (msec)",{size:31.8});
 T(g,zx(o.yt),ey(545),"Time (msec)",{size:31.8,rot:-90});
 // colour bar
 if(o.box)g.append("rect").attr("x",zx(o.c0-6)).attr("y",ey(o.ct)).attr("width",zx(33)).attr("height",ey(o.cb)-ey(o.ct)).attr("fill","#fff").attr("stroke","#aaa").attr("stroke-width",1);
 const cb=d3.scaleBand().domain(d3.range(64)).range([ey(o.ct),ey(o.cb)]);
 g.selectAll(null).data(d3.range(64)).join("rect").attr("x",zx(o.c0)).attr("width",zx(27)).attr("y",d=>cb(d)).attr("height",cb.bandwidth()+.4).attr("fill",d=>jet(1-d/63));
 o.cl.forEach((v,i)=>T(g,zx(o.clx),ey(o.cp[i]),v,{anchor:"start"}));
 T(g,zx(o.hz),ey(115),[{t:"(Hz"},{t:"2",sz:20,dy:"-9"},{t:")",dy:"9"}],{size:30});
}
jpsthPanel({rows:jpsth1,l:252,xl:[295,385,475,562,650],xc:475,yr:240,yt:137,c0:685,ct:178,cb:944,cl:[80,40,0],cp:[250,490,728],clx:733,hz:770});
jpsthPanel({rows:jpsth2,l:989,xl:[1032,1121,1212,1300,1387],xc:1211,yr:976,yt:875,c0:1420,ct:176,cb:942,cl:[30,20,10,0],cp:[235,420,605,790],clx:1467,hz:1503});
jpsthPanel({rows:jpsth3,l:Z+144,xl:[Z+186,Z+277,Z+366,Z+453,Z+541],xc:Z+364,yr:Z+132,yt:Z+25,c0:Z+577,ct:176,cb:946,cl:[10,0,-10,-20],cp:[347,535,725,913],clx:Z+625,hz:Z+658});
jpsthPanel({rows:jpsth4,l:Z+878,xl:[Z+921,Z+1010,Z+1100,Z+1188,Z+1277],xc:Z+1182,yr:Z+870,yt:Z+765,c0:Z+1312,ct:174,cb:946,cl:[10,0,-10,-20],cp:[355,550,747,943],clx:Z+1352,hz:Z+1389,box:true});

function curve(o){
 const g=svg.append("g");
 const x=d3.scaleLinear().domain([-100,100]).range([zx(o.m),zx(o.p)]);
 const y=d3.scaleLinear().domain([0,10]).range([ey(o.a),ey(o.a-100)]);
 [-100,100].forEach(v=>g.append("line").attr("x1",x(v)).attr("x2",x(v)).attr("y1",y(0)).attr("y2",y(8)).attr("stroke","#000").attr("stroke-width",1));
 g.append("path").attr("d",d3.line().x((d,i)=>x(o.t[i])).y(d=>y(d))(o.v)).attr("fill","none").attr("stroke","#0000ee").attr("stroke-width",9).attr("stroke-linejoin","miter");
 g.append("line").attr("x1",zx(o.ax0)).attr("x2",zx(o.ax1-22)).attr("y1",y(0)).attr("y2",y(0)).attr("stroke","#000").attr("stroke-width",3.6);
 g.append("polygon").attr("points",[[zx(o.ax1-26),y(0)-8],[zx(o.ax1),y(0)],[zx(o.ax1-26),y(0)+8]].join(" ")).attr("fill","#000");
 const zeroX=zx(o.d);
 g.append("line").attr("x1",zeroX).attr("x2",zeroX).attr("y1",ey(o.dt)).attr("y2",ey(1565)).attr("stroke","#000").attr("stroke-width",2.5).attr("stroke-dasharray","3 3");
 T(g,zx(o.lm),ey(o.ly),"-100");T(g,zx(o.lp),ey(o.ly),"100");
 T(g,zx(o.mx),ey(o.my),"(msec)");
}
curve({m:538,p:876,a:1424,t:lag1,v:cc1,ax0:512,ax1:920,d:714,dt:1160,lm:537,lp:868,ly:1340,mx:877,my:1515});
curve({m:1275,p:1611,a:1424,t:lag2,v:cc2,ax0:1248,ax1:Z+88,d:1451,dt:1170,lm:1273,lp:Z+37,ly:1340,mx:Z+50,my:1515});
curve({m:Z+433,p:Z+768,a:1358,t:lag3,v:cc3,ax0:Z+406,ax1:Z+815,d:Z+608,dt:1160,lm:Z+431,lp:Z+762,ly:1285,mx:Z+770,my:1480});
curve({m:Z+1167,p:Z+1503,a:1407,t:lag4,v:cc4,ax0:Z+1140,ax1:Z+1548,d:Z+1342,dt:1155,lm:Z+1164,lp:Z+1496,ly:1322,mx:Z+1503,my:1510});
</script></body></html>
